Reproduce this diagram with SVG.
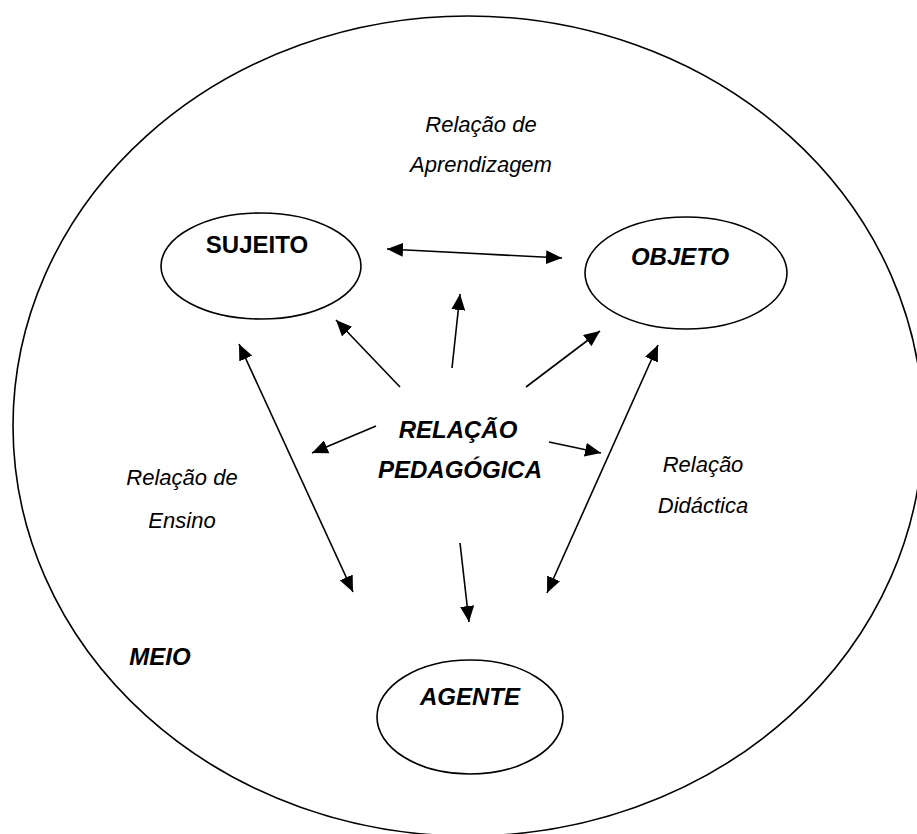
<svg xmlns="http://www.w3.org/2000/svg" width="917" height="834" viewBox="0 0 917 834">
<style>
.sh{fill:none;stroke:#000;stroke-width:1.6}
.ln{fill:none;stroke:#000;stroke-width:1.6;marker-end:url(#ah)}
.dl{fill:none;stroke:#000;stroke-width:1.6;marker-start:url(#ah);marker-end:url(#ah)}
.b{font-family:"Liberation Sans",Arial,sans-serif;font-weight:bold;font-size:24px;text-anchor:middle;fill:#000}
.bi{font-family:"Liberation Sans",Arial,sans-serif;font-weight:bold;font-style:italic;font-size:24px;text-anchor:middle;fill:#000}
.i{font-family:"Liberation Sans",Arial,sans-serif;font-style:italic;font-size:22px;text-anchor:middle;fill:#000}
</style>
<defs>
<marker id="ah" markerUnits="userSpaceOnUse" markerWidth="16" markerHeight="14" refX="16" refY="7" orient="auto-start-reverse" viewBox="0 0 16 14">
<path d="M0,0 L16,7 L0,14 z" fill="#000"/>
</marker>
</defs>
<rect width="917" height="834" fill="#fff"/>
<g id="meio">
<ellipse class="sh" cx="468" cy="426" rx="455" ry="410"/>
<text class="bi" x="160" y="665">MEIO</text>
</g>
<g id="sujeito">
<ellipse class="sh" cx="261" cy="266" rx="100" ry="53"/>
<text class="b" x="257" y="253">SUJEITO</text>
</g>
<g id="objeto">
<ellipse class="sh" cx="686" cy="273" rx="101" ry="56"/>
<text class="bi" x="680" y="265">OBJETO</text>
</g>
<g id="agente">
<ellipse class="sh" cx="470" cy="717" rx="93" ry="57"/>
<text class="bi" x="470" y="705">AGENTE</text>
</g>
<g id="relacao-pedagogica">
<text class="bi" x="458" y="438">RELAÇÃO</text>
<text class="bi" x="460" y="478">PEDAGÓGICA</text>
</g>
<g id="labels">
<text class="i" x="481" y="132">Relação de</text>
<text class="i" x="481" y="172">Aprendizagem</text>
<text class="i" x="182" y="485">Relação de</text>
<text class="i" x="182" y="528">Ensino</text>
<text class="i" x="703" y="472">Relação</text>
<text class="i" x="703" y="513">Didáctica</text>
</g>
<g id="connectors">
<line class="dl" x1="387" y1="249" x2="562" y2="258"/>
<line class="ln" x1="452" y1="368" x2="460" y2="294"/>
<line class="ln" x1="400" y1="387" x2="336" y2="320"/>
<line class="ln" x1="526" y1="387" x2="600" y2="331"/>
<line class="ln" x1="376" y1="426" x2="312" y2="453"/>
<line class="ln" x1="549" y1="442" x2="601" y2="453"/>
<line class="ln" x1="460" y1="543" x2="469" y2="622"/>
<line class="dl" x1="239" y1="344" x2="353" y2="592"/>
<line class="dl" x1="658" y1="345" x2="547" y2="593"/>
</g>
</svg>
